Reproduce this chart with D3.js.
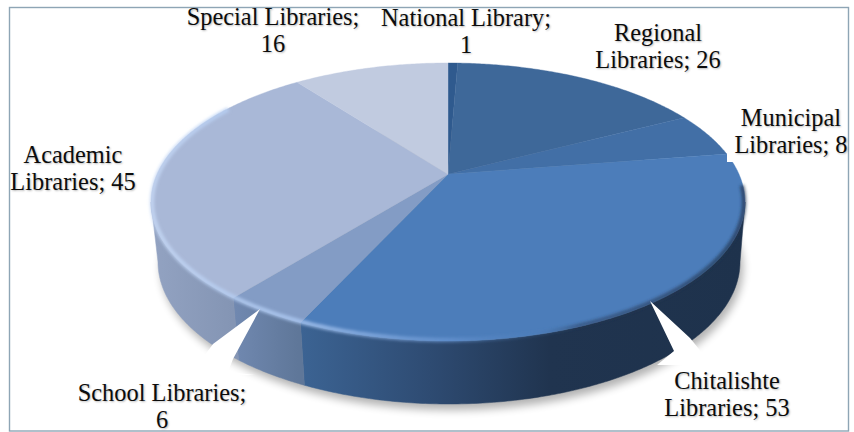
<!DOCTYPE html>
<html><head><meta charset="utf-8">
<script src="https://cdn.jsdelivr.net/npm/d3@7"></script>
<style>
html,body{margin:0;padding:0;background:#fff}
svg{display:block}
text{font-family:"Liberation Serif","Times New Roman",serif;font-size:24.4px;fill:#0c0c0c;text-anchor:middle;text-shadow:1px 1px 2px rgba(0,0,0,.28)}
</style></head><body>
<svg id="c" width="854" height="432"></svg>
<script>
const categories=["National Library","Regional Libraries","Municipal Libraries","Chitalishte Libraries","School Libraries","Academic Libraries","Special Libraries"];
const values=[1,26,8,53,6,45,16];
const topColors=["#2f5a8e","#3e6899","#426fa6","#4c7dba","#839cc5","#a9b8d7","#c1cbe0"];
const labelLines=[["National Library;","1"],["Regional","Libraries; 26"],["Municipal","Libraries; 8"],["Chitalishte","Libraries; 53"],["School Libraries;","6"],["Academic","Libraries; 45"],["Special Libraries;","16"]];
const labelCentres=[[466,26],[658,41],[791,126],[727,389],[162,401],[73,163],[273,25]];
const wallStops=[
 [[298,"#3c6494"],[430,"#2e4b72"],[550,"#20344f"],[745,"#1e324c"]],
 [[232,"#7189b1"],[298,"#5f7799"]],
 [[150,"#93a3c2"],[232,"#8495b4"]]];

const W=854,H=432;
const topEll={cx:448,cy:202,rx:297,ry:139};
const botEll={cx:449,cy:262,rx:291,ry:142};
const h=0.205;     // perspective of the rim
const apexH=0.2;   // height of the centre point above the ellipse centre
const svg=d3.select("#c");
const defs=svg.append("defs");
defs.append("filter").attr("id","sh").attr("x","-10%").attr("y","-10%").attr("width","120%").attr("height","130%")
  .append("feGaussianBlur").attr("stdDeviation",4);
defs.append("filter").attr("id","b1").attr("x","-5%").attr("y","-5%").attr("width","110%").attr("height","110%")
  .append("feGaussianBlur").attr("stdDeviation",1.5);

function project(e,a){
  const s=Math.sin(a),c=Math.cos(a),d=1+h*c;
  return [e.cx+e.rx*s*Math.sqrt(1-h*h)/d, e.cy-e.ry*(c+h)/d];
}
const line=d3.line();
const arcPts=(e,a0,a1)=>{const n=Math.max(2,Math.ceil(Math.abs(a1-a0)/0.01));
  return d3.range(n+1).map(i=>project(e,a0+(a1-a0)*i/n));};
const slices=d3.pie().sort(null)(values);
const TAU=2*Math.PI;
const tangentR=Math.acos(-h), tangentL=TAU-tangentR;
const apex=[topEll.cx,topEll.cy-topEll.ry*apexH];

// soft shadow under the disc
svg.append("path").attr("d",line(arcPts({...botEll,cx:botEll.cx+3,cy:botEll.cy+6},0,TAU))+"Z")
  .attr("fill","#000").attr("opacity",.3).attr("filter","url(#sh)");

// walls
const wallG=svg.append("g");
[3,4,5].forEach((idx,k)=>{
  const sl=slices[idx];
  const a0=Math.max(sl.startAngle,tangentR), a1=Math.min(sl.endAngle,tangentL);
  const id="w"+idx;
  const g=defs.append("linearGradient").attr("id",id).attr("gradientUnits","userSpaceOnUse")
     .attr("x1",0).attr("x2",W).attr("y1",0).attr("y2",0);
  wallStops[k].forEach(s=>g.append("stop").attr("offset",s[0]/W).attr("stop-color",s[1]));
  const pts=arcPts(topEll,a0,a1).concat(arcPts(botEll,a1,a0));
  wallG.append("path").attr("d",line(pts)+"Z").attr("fill",`url(#${id})`).attr("stroke",`url(#${id})`).attr("stroke-width",.5);
});

// top face
const topG=svg.append("g");
slices.forEach((sl,i)=>{
  const pts=[apex].concat(arcPts(topEll,sl.startAngle,sl.endAngle));
  topG.append("path").attr("d",line(pts)+"Z").attr("fill",topColors[i]).attr("stroke",topColors[i]).attr("stroke-width",.4);
});

// bevel along the rim
const rg=defs.append("linearGradient").attr("id","rim").attr("gradientUnits","userSpaceOnUse").attr("x1",150).attr("x2",745).attr("y1",0).attr("y2",0);
[[0,"#c6d8f5",.8],[.25,"#a9c6f0",.85],[.5,"#6f9bd8",.6],[.65,"#4c7dba",.2],[.72,"#20344f",.45],[1,"#20344f",.7]]
 .forEach(s=>rg.append("stop").attr("offset",s[0]).attr("stop-color",s[1]).attr("stop-opacity",s[2]));
svg.append("path").attr("d",line(arcPts({...topEll,rx:topEll.rx-1,ry:topEll.ry-1},tangentR-0.12,TAU-1.0)))
  .attr("fill","none").attr("stroke","url(#rim)").attr("stroke-width",4.5).attr("filter","url(#b1)");

// white leader wedges and label plates
const plates=[[[260,309],[213,344],[190,375],[255,375],[228,372],[233,359]],
              [[650,301],[690,338],[712,365],[657,365],[674,351]]];
svg.append("g").selectAll("path").data(plates).join("path").attr("d",d=>line(d)+"Z").attr("fill","#fff");
svg.append("rect").attr("x",727).attr("y",104).attr("width",118).attr("height",58).attr("fill","#fff");

// frame
svg.append("rect").attr("x",9.5).attr("y",7.5).attr("width",839).attr("height",423.5)
  .attr("fill","none").attr("stroke","#8ea5b5").attr("stroke-width",1.4);

// labels
const lab=svg.append("g");
labelLines.forEach((ls,i)=>{
  const [x,y]=labelCentres[i];
  ls.forEach((t,j)=>lab.append("text").attr("x",x).attr("y",y+j*27.3).text(t));
});
</script>
</body></html>
